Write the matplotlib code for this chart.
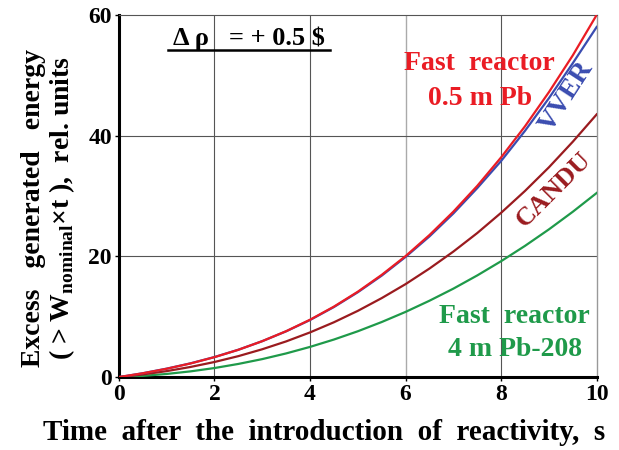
import matplotlib
matplotlib.use('Agg')
import matplotlib.pyplot as plt
import numpy as np

plt.rcParams['font.family'] = ['Liberation Serif', 'DejaVu Serif']
plt.rcParams['font.weight'] = 'bold'
plt.rcParams['mathtext.fontset'] = 'custom'
plt.rcParams['mathtext.rm'] = 'Liberation Serif:bold'
plt.rcParams['mathtext.bf'] = 'Liberation Serif:bold'

# time, s
t = [0, 0.5, 1, 1.5, 2, 2.5, 3, 3.5, 4, 4.5, 5, 5.5, 6, 6.5, 7, 7.5, 8, 8.5, 9, 9.5, 10]

# excess generated energy, rel. units
fast_05pb = [0, 0.63, 1.38, 2.26, 3.30, 4.52, 5.95, 7.60, 9.50, 11.67, 14.14,
             16.93, 20.04, 23.53, 27.4, 31.67, 36.4, 41.55, 47.2, 53.3, 60.0]
vver = [0, 0.64, 1.40, 2.28, 3.32, 4.53, 5.95, 7.58, 9.45, 11.6, 14.05,
        16.8, 19.9, 23.3, 27.1, 31.3, 35.8, 40.8, 46.2, 52.0, 58.0]
candu = [0, 0.44, 0.99, 1.68, 2.50, 3.47, 4.61, 5.91, 7.40, 9.08, 10.97,
         13.08, 15.40, 17.98, 20.79, 23.86, 27.22, 30.84, 34.75, 38.99, 43.52]
fast_4pb208 = [0, 0.20, 0.52, 0.95, 1.50, 2.18, 2.98, 3.92, 5.00, 6.22, 7.59,
               9.12, 10.80, 12.65, 14.65, 16.84, 19.2, 21.74, 24.47, 27.39, 30.5]

c_red = '#ea1c24'
c_blue = '#3a4cb0'
c_candu = '#9a1b1f'
c_green = '#1f9a4a'

fig = plt.figure(figsize=(6.19, 4.5), dpi=100)
ax = fig.add_axes([0.192, 0.162, 0.772, 0.805])

# grid
for xv in [2, 4, 8]:
    ax.axvline(xv, color='#555555', lw=0.8, zorder=1)
ax.axvline(6, color='#aaaaaa', lw=1.0, zorder=1)
for yv in [20, 40]:
    ax.axhline(yv, color='#555555', lw=0.8, zorder=1)

ax.plot(t, fast_4pb208, color=c_green, lw=1.6, zorder=3)
ax.plot(t, candu, color=c_candu, lw=1.6, zorder=3)
ax.plot(t, vver, color=c_blue, lw=1.6, zorder=3)
ax.plot(t, fast_05pb, color=c_red, lw=1.6, zorder=4)

ax.set_xlim(0, 10)
ax.set_ylim(0, 60)
ax.set_xticks([0, 2, 4, 6, 8, 10])
ax.set_yticks([0, 20, 40, 60])
ax.tick_params(labelsize=17, length=3, width=1, direction='out', pad=2)
for lab in ax.get_xticklabels() + ax.get_yticklabels():
    lab.set_fontweight('bold')

ax.spines['left'].set_linewidth(2.2)
ax.spines['bottom'].set_linewidth(2.2)
ax.spines['top'].set_linewidth(0.8)
ax.spines['top'].set_color('#555555')
ax.spines['right'].set_linewidth(1.0)
ax.spines['right'].set_color('#999999')

ax.set_xlabel('Time  after  the  introduction  of  reactivity,  s', fontsize=21,
              fontweight='bold')
ax.xaxis.set_label_coords(0.43, -0.115)
ax.set_ylabel('Excess   generated   energy\n'
              r'( > W$_{\mathbf{nominal}}$$\mathbf{\times}$t ),  rel. units',
              fontsize=20, fontweight='bold', linespacing=1.05)
ax.yaxis.set_label_coords(-0.088, 0.467)

# annotations
ax.text(0.272, 0.936, 'Δ ρ   = + 0.5 $', transform=ax.transAxes,
        fontsize=19, fontweight='bold', ha='center', va='center')
ax.plot([0.103, 0.441], [0.903, 0.903], transform=ax.transAxes, color='black', lw=1.8)

ax.text(7.55, 49.0, 'Fast  reactor\n0.5 m Pb', color=c_red, fontsize=20, fontweight='bold',
        ha='center', va='center', linespacing=1.55)
ax.text(9.37, 46.4, 'VVER', color=c_blue, fontsize=20, fontweight='bold',
        ha='center', va='center', rotation=57)
ax.text(9.1, 31.0, 'CANDU', color=c_candu, fontsize=19, fontweight='bold',
        ha='center', va='center', rotation=45)
ax.text(8.28, 7.3, 'Fast  reactor\n4 m Pb-208', color=c_green, fontsize=20, fontweight='bold',
        ha='center', va='center', linespacing=1.43)

fig.savefig('out.png', dpi=100)
